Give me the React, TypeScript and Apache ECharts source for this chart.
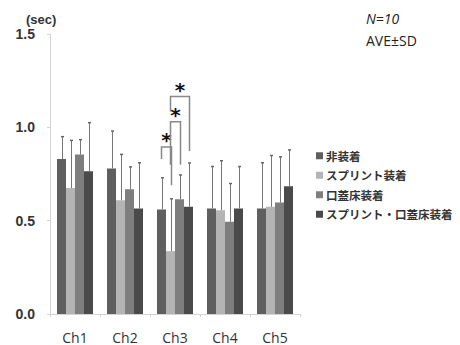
import React, { useEffect, useRef } from "react";
import * as echarts from "echarts";

const categories = ["Ch1", "Ch2", "Ch3", "Ch4", "Ch5"];
const seriesNames = ["非装着", "スプリント装着", "口蓋床装着", "スプリント・口蓋床装着"];
const meanNone = [0.83, 0.78, 0.56, 0.565, 0.565];
const meanSplint = [0.675, 0.61, 0.337, 0.556, 0.574];
const meanPalate = [0.854, 0.668, 0.615, 0.494, 0.597];
const meanBoth = [0.765, 0.565, 0.574, 0.565, 0.684];
const sdNone = [0.12, 0.2, 0.17, 0.225, 0.245];
const sdSplint = [0.255, 0.245, 0.28, 0.265, 0.275];
const sdPalate = [0.08, 0.12, 0.13, 0.205, 0.245];
const sdBoth = [0.26, 0.245, 0.235, 0.225, 0.195];
const yTicks = [0, 0.5, 1.0, 1.5];
// significance brackets: [categoryIndex, fromBar, toBar, topValue, leftLegBottom, rightLegBottom]
const brackets = [
  [2, 0, 1, 0.895, 0.83, 0.69],
  [2, 1, 2, 1.03, 0.8, 0.8],
  [2, 1, 3, 1.165, 1.085, 0.873],
];

const colors = ["#5f5f5f", "#b4b4b4", "#7e7e7e", "#4a4a4a"];
const means = [meanNone, meanSplint, meanPalate, meanBoth];
const sds = [sdNone, sdSplint, sdPalate, sdBoth];
const BAR_FRAC = 0.18;
const FONT = "'Noto Sans CJK JP', 'Noto Sans', sans-serif";

export default function App() {
  const ref = useRef<HTMLDivElement>(null);
  useEffect(() => {
    const chart = echarts.init(ref.current!, null, { renderer: "svg" });
    const barSeries = means.map((m, i) => ({
      name: seriesNames[i],
      type: "bar",
      data: m,
      barWidth: BAR_FRAC * 100 + "%",
      barGap: "0%",
      itemStyle: { color: colors[i] },
      z: 2,
    }));
    const errSeries = means.map((m, i) => ({
      type: "custom",
      name: "err" + i,
      z: 3,
      silent: true,
      encode: { x: 0, y: 1 },
      data: m.map((v, j) => [j, v, sds[i][j]]),
      renderItem: (params: any, api: any) => {
        const c = api.value(0);
        const v = api.value(1);
        const sd = api.value(2);
        const bw = api.size([1, 0])[0] * BAR_FRAC;
        const off = (i - 1.5) * bw;
        const p0 = api.coord([c, v]);
        const p1 = api.coord([c, v + sd]);
        const x = Math.round(p0[0] + off) + 0.5;
        const style = { stroke: "#777777", lineWidth: 1 };
        return {
          type: "group",
          children: [
            { type: "line", shape: { x1: x, y1: p0[1], x2: x, y2: p1[1] }, style },
            { type: "line", shape: { x1: x - 1.5, y1: p1[1], x2: x + 1.5, y2: p1[1] }, style: { stroke: "#666666", lineWidth: 1.5 } },
          ],
        };
      },
    }));
    const bracketSeries = {
      type: "custom",
      name: "brackets",
      z: 4,
      silent: true,
      clip: false,
      encode: { x: 0, y: 3 },
      data: brackets,
      renderItem: (params: any, api: any) => {
        const c = api.value(0);
        const a = api.value(1);
        const b = api.value(2);
        const top = api.value(3);
        const lb = api.value(4);
        const rb = api.value(5);
        const bw = api.size([1, 0])[0] * BAR_FRAC;
        const base = api.coord([c, top]);
        const xa = Math.round(base[0] + (a - 1.5) * bw) - 0.5;
        const xb = Math.round(base[0] + (b - 1.5) * bw) + 0.5;
        const yt = base[1];
        const yl = api.coord([c, lb])[1];
        const yr = api.coord([c, rb])[1];
        return {
          type: "group",
          children: [
            {
              type: "polyline",
              shape: { points: [[xa, yl], [xa, yt], [xb, yt], [xb, yr]] },
              style: { stroke: "#888888", lineWidth: 1.5, fill: null },
            },
            {
              type: "text",
              style: {
                text: "*",
                x: (xa + xb) / 2,
                y: yt + 3,
                align: "center",
                verticalAlign: "bottom",
                fontSize: 20,
                fontWeight: "bold",
                fill: "#111111",
                fontFamily: "'DejaVu Sans', sans-serif",
              },
            },
          ],
        };
      },
    };
    chart.setOption({
      animation: false,
      grid: { left: 50, right: 160, top: 34, bottom: 31 },
      xAxis: {
        type: "category",
        data: categories,
        axisLine: { lineStyle: { color: "#d4d4d4" } },
        axisTick: { show: true, length: 3, lineStyle: { color: "#d4d4d4" } },
        axisLabel: { color: "#333333", fontSize: 14, margin: 16, fontFamily: "'Open Sans', sans-serif" },
      },
      yAxis: {
        type: "value",
        min: yTicks[0],
        max: yTicks[yTicks.length - 1],
        interval: 0.5,
        splitLine: { show: false },
        axisLine: { show: true, lineStyle: { color: "#d4d4d4" } },
        axisTick: { show: true, length: 3, lineStyle: { color: "#d4d4d4" } },
        axisLabel: {
          color: "#333333",
          fontSize: 14,
          fontWeight: "bold",
          margin: 15,
          fontFamily: "'Liberation Sans', sans-serif",
          formatter: (v: number) => v.toFixed(1),
        },
      },
      legend: {
        data: seriesNames,
        orient: "vertical",
        left: 311,
        top: 145,
        itemWidth: 7,
        itemHeight: 7,
        itemGap: 8,
        icon: "rect",
        textStyle: { fontSize: 11.5, fontWeight: "bold", color: "#333333", fontFamily: FONT, padding: [0, 0, 0, -2] },
      },
      graphic: [
        { type: "text", left: 26, top: 13, style: { text: "(sec)", fontSize: 13, fontWeight: "bold", fill: "#333333", fontFamily: "'Liberation Sans', sans-serif" } },
        { type: "text", left: 366, top: 11, style: { text: "N=10", fontSize: 14, fontStyle: "italic", fill: "#222222", fontFamily: "'Open Sans', sans-serif" } },
        { type: "text", left: 366, top: 33, style: { text: "AVE±SD", fontSize: 14, fill: "#222222", fontFamily: "'Open Sans', sans-serif" } },
      ],
      series: [...barSeries, ...errSeries, bracketSeries],
    });
    return () => chart.dispose();
  }, []);
  return <div ref={ref} style={{ width: 460, height: 345, position: "absolute", left: 0, top: 0, background: "#ffffff" }} />;
}
